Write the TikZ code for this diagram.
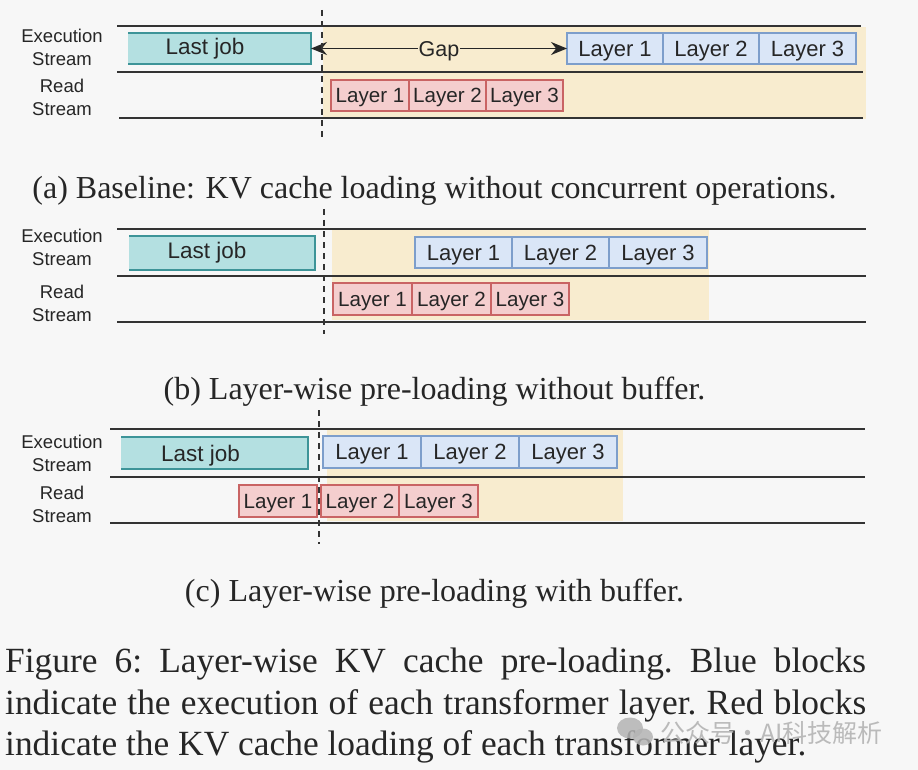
\documentclass[tikz,border=0pt]{standalone}
\usepackage{fontspec}
\setmainfont{Liberation Serif}
\setsansfont{Liberation Sans}
\newfontfamily\cjk{Noto Sans CJK SC}
\usetikzlibrary{arrows.meta}
\definecolor{bg}{HTML}{F7F7F7}
\definecolor{linec}{HTML}{333333}
\definecolor{tealF}{HTML}{B4E0E1}
\definecolor{tealD}{HTML}{3D9498}
\definecolor{blueF}{HTML}{DAE6F7}
\definecolor{blueD}{HTML}{7D9ECB}
\definecolor{redF}{HTML}{F4CECE}
\definecolor{redD}{HTML}{C96464}
\definecolor{yel}{HTML}{F8ECCF}
\definecolor{txt}{HTML}{262626}
\definecolor{wm}{HTML}{B4B4B4}
\tikzset{
  lane/.style={line width=2pt, draw=linec},
  divider/.style={line width=1.6pt, draw=linec, dash pattern=on 6pt off 5pt},
  streamlabel/.style={align=center, text=txt, inner sep=0pt, font=\sffamily\fontsize{18.5}{23}\selectfont},
  jobbox/.style={fill=tealF, inner sep=0pt, outer sep=0pt},
  jobedge/.style={draw=tealD, line width=2pt},
  jobtext/.style={text=txt, inner sep=0pt, text depth=0pt, font=\sffamily\fontsize{22.5}{26}\selectfont},
  bluebox/.style={draw=blueD, fill=blueF, line width=1.8pt, inner sep=0pt, outer sep=0pt, text depth=0pt, text=txt, font=\sffamily\fontsize{22}{26}\selectfont},
  redbox/.style={draw=redD, fill=redF, line width=1.8pt, inner sep=0pt, outer sep=0pt, text depth=0pt, text=txt, font=\sffamily\fontsize{20.6}{24}\selectfont},
  subcap/.style={text=txt, inner sep=0pt, font=\rmfamily\fontsize{32}{38}\selectfont},
  figcap/.style={text=txt, inner sep=0pt, anchor=west, font=\rmfamily\frenchspacing\fontsize{35.4}{42}\selectfont},
  gaparrow/.style={line width=1.3pt, draw=txt, {Stealth[length=16pt,width=13pt]}-{Stealth[length=16pt,width=13pt]}},
}
% #1 name, #2 style, #3 x1, #4 y1, #5 x2, #6 y2, #7 text
\newcommand\myblock[7]{%
  \node[#2, minimum width={(#5-#3)*1pt}, minimum height={(#6-#4)*1pt}] (#1) at ({(#3+#5)/2},{(#4+#6)/2}) {#7};}
\begin{document}
\begin{tikzpicture}[x=1pt,y=-1pt]
\fill[bg] (0,0) rectangle (918,770);
\useasboundingbox (0,0) rectangle (918,770);

% ===================== (a) =====================
\fill[yel] (323,27) rectangle (866,119);
\draw[lane] (117,26) -- (861,26);
\draw[lane] (117,72) -- (863,72);
\draw[lane] (119,118) -- (863,118);
\node[streamlabel] (ea) at (62,47.5) {Execution\\Stream};
\node[streamlabel] (ra) at (62,97.5) {Read\\Stream};
\myblock{lja}{jobbox}{128}{33}{311}{64}{}
\draw[jobedge] (lja.north west) -- (lja.north east) -- (lja.south east) -- (lja.south west);
\node[jobtext] (ljta) at (205,46) {Last job};
\myblock{ba1}{bluebox}{567}{33}{663}{64}{Layer 1}
\myblock{ba2}{bluebox}{663}{33}{759}{64}{Layer 2}
\myblock{ba3}{bluebox}{759}{33}{856}{64}{Layer 3}
\myblock{ra1}{redbox}{331}{80}{409}{111}{Layer 1}
\myblock{ra2}{redbox}{409}{80}{486}{111}{Layer 2}
\myblock{ra3}{redbox}{486}{80}{563}{111}{Layer 3}
\draw[gaparrow] (lja.east) -- (ba1.west) node[midway, fill=yel, inner sep=1pt, text depth=0pt, text=txt, font=\sffamily\fontsize{21.5}{25}\selectfont] (gap) {Gap};
\draw[divider] (322,10) -- (322,138);
\node[subcap] (capa) at (434.5,191) {(a) Baseline: KV cache loading without concurrent operations.};

% ===================== (b) =====================
\fill[yel] (332,228) rectangle (709,320);
\draw[lane] (117,229) -- (866,229);
\draw[lane] (117,276) -- (866,276);
\draw[lane] (117,322) -- (866,322);
\node[streamlabel] (eb) at (62,247.5) {Execution\\Stream};
\node[streamlabel] (rb) at (62,303.5) {Read\\Stream};
\myblock{ljb}{jobbox}{129}{236}{315}{270}{}
\draw[jobedge] (ljb.north west) -- (ljb.north east) -- (ljb.south east) -- (ljb.south west);
\node[jobtext] (ljtb) at (207,250) {Last job};
\myblock{bb1}{bluebox}{415}{237}{512}{268}{Layer 1}
\myblock{bb2}{bluebox}{512}{237}{609}{268}{Layer 2}
\myblock{bb3}{bluebox}{609}{237}{707}{268}{Layer 3}
\myblock{rb1}{redbox}{333}{283}{412}{315}{Layer 1}
\myblock{rb2}{redbox}{412}{283}{491}{315}{Layer 2}
\myblock{rb3}{redbox}{491}{283}{569}{315}{Layer 3}
\draw[divider] (324,209) -- (324,334);
\node[subcap] (capb) at (434.5,392) {(b) Layer-wise pre-loading without buffer.};

% ===================== (c) =====================
\fill[yel] (327,428) rectangle (623,521);
\draw[lane] (110,429) -- (865,429);
\draw[lane] (110,477) -- (865,477);
\draw[lane] (110,523) -- (865,523);
\node[streamlabel] (ec) at (62,453.5) {Execution\\Stream};
\node[streamlabel] (rc) at (62,504.5) {Read\\Stream};
\myblock{ljc}{jobbox}{121}{437}{308}{469}{}
\draw[jobedge] (ljc.north west) -- (ljc.north east) -- (ljc.south east) -- (ljc.south west);
\node[jobtext] (ljtc) at (200.5,453) {Last job};
\myblock{bc1}{bluebox}{323}{436}{421}{468}{Layer 1}
\myblock{bc2}{bluebox}{421}{436}{519}{468}{Layer 2}
\myblock{bc3}{bluebox}{519}{436}{617}{468}{Layer 3}
\myblock{rc1}{redbox}{239}{485}{317}{517}{Layer 1}
\myblock{rc2}{redbox}{321}{485}{399}{517}{Layer 2}
\myblock{rc3}{redbox}{399}{485}{478}{517}{Layer 3}
\draw[divider] (319,410) -- (319,544);
\node[subcap] (capc) at (434.5,594) {(c) Layer-wise pre-loading with buffer.};

% ===================== caption =====================
\node[figcap] (f1) at (5,664) {\makebox[861pt][s]{Figure 6: Layer-wise KV cache pre-loading. Blue blocks}};
\node[figcap] (f2) at (5,705.5) {\makebox[861pt][s]{indicate the execution of each transformer layer. Red blocks}};
\node[figcap] (f3) at (5,747) {indicate the KV cache loading of each transformer layer.};

% ===================== watermark =====================
\fill[wm, opacity=0.85] (630,728) ellipse [x radius=13, y radius=10.5];
\fill[wm, opacity=0.85] (643,737) ellipse [x radius=10, y radius=8.5];
\node[text=wm, opacity=0.9, anchor=west, inner sep=0pt, font=\cjk\fontsize{25}{30}\selectfont] (wmtext) at (660,733) {公众号·AI科技解析};
\end{tikzpicture}
\end{document}
